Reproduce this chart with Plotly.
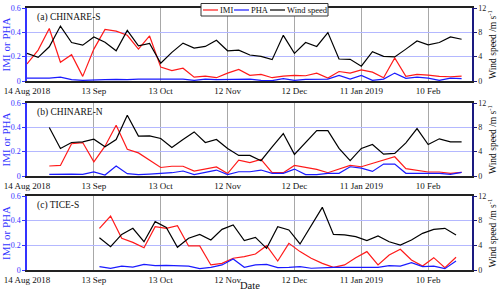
import pandas as pd
import plotly.graph_objects as go
from plotly.subplots import make_subplots

# ---------------- data ----------------
start_ab = "2018-08-14"
start_b = "2018-08-24"
start_c = "2018-09-15 12:00"

wind_a = [4.54, 3.89, 5.62, 9.03, 6.32, 5.89, 7.24, 6.38, 4.97, 8.32, 5.78, 6.16, 2.92, 4.70,
          6.22, 5.41, 5.68, 6.70, 4.97, 5.08, 4.27, 4.05, 3.51, 7.51, 4.54, 6.32, 5.68, 7.95,
          3.62, 3.57, 2.43, 4.81, 4.05, 3.95, 5.24, 6.59, 5.95, 6.32, 7.24, 6.86]
imi_a = [0.14, 0.254, 0.432, 0.154, 0.216, 0.038, 0.262, 0.424, 0.41, 0.376, 0.262, 0.37,
         0.114, 0.086, 0.105, 0.032, 0.04, 0.027, 0.065, 0.095, 0.046, 0.054, 0.027, 0.04,
         0.046, 0.043, 0.065, 0.024, 0.078, 0.065, 0.092, 0.073, 0.027, 0.189, 0.038, 0.054,
         0.049, 0.038, 0.035, 0.04]
pha_a = [0.024, 0.024, 0.024, 0.032, 0.011, 0.005, 0.005, 0.011, 0.014, 0.011, 0.016, 0.019,
         0.016, 0.016, 0.016, 0.005, 0.016, 0.011, 0.011, 0.011, 0.016, 0.005, 0.003, 0.019,
         0.005, 0.014, 0.014, 0.016, 0.046, 0.016, 0.046, 0.005, 0.016, 0.065, 0.022, 0.032,
         0.024, 0.005, 0.024, 0.019]

wind_b = [7.96, 4.53, 5.51, 5.62, 6.05, 4.8, 6.0, 9.98, 6.55, 6.6, 6.16, 4.69, 6.0, 7.25,
          5.51, 6.0, 4.53, 3.38, 3.38, 2.51, 4.8, 6.98, 3.55, 5.5, 7.47, 7.47, 4.53, 2.51,
          4.53, 5.18, 3.6, 3.71, 5.45, 7.8, 5.18, 6.11, 5.62, 5.62]
imi_b = [0.082, 0.087, 0.265, 0.275, 0.117, 0.245, 0.417, 0.22, 0.19, 0.13, 0.07, 0.08, 0.08,
         0.04, 0.06, 0.075, 0.02, 0.13, 0.11, 0.136, 0.027, 0.027, 0.087, 0.071, 0.055, 0.027,
         0.055, 0.087, 0.076, 0.104, 0.131, 0.158, 0.06, 0.049, 0.033, 0.033, 0.022, 0.03]
pha_b = [0.014, 0.016, 0.016, 0.014, 0.033, 0.008, 0.082, 0.019, 0.011, 0.016, 0.022, 0.027,
         0.041, 0.011, 0.03, 0.049, 0.011, 0.035, 0.035, 0.049, 0.022, 0.022, 0.057, 0.011,
         0.011, 0.022, 0.022, 0.076, 0.065, 0.038, 0.098, 0.098, 0.022, 0.022, 0.022, 0.022,
         0.014, 0.03]

wind_c = [5.24, 3.78, 5.78, 6.76, 4.59, 7.84, 6.9, 3.68, 5.14, 5.78, 4.86, 6.59, 7.3, 4.76,
          5.3, 3.51, 7.03, 6.49, 4.22, 7.19, 10.16, 5.78, 5.68, 5.4, 4.76, 5.51, 4.59, 4.05,
          4.86, 5.95, 6.59, 6.76, 5.68]
imi_c = [0.338, 0.438, 0.257, 0.224, 0.181, 0.351, 0.338, 0.36, 0.195, 0.195, 0.041, 0.054,
         0.095, 0.108, 0.13, 0.197, 0.073, 0.216, 0.149, 0.095, 0.054, 0.022, 0.041, 0.1,
         0.149, 0.041, 0.122, 0.168, 0.081, 0.032, 0.1, 0.019, 0.103]
pha_c = [0.027, 0.014, 0.032, 0.024, 0.046, 0.035, 0.038, 0.038, 0.032, 0.011, 0.022, 0.041,
         0.089, 0.022, 0.041, 0.046, 0.019, 0.022, 0.027, 0.014, 0.019, 0.022, 0.022, 0.022,
         0.016, 0.022, 0.035, 0.032, 0.059, 0.027, 0.032, 0.011, 0.073]

tick_dates = ["2018-08-14", "2018-09-13", "2018-10-13", "2018-11-12", "2018-12-12",
              "2019-01-11", "2019-02-10"]
tick_labels = ["14 Aug 2018", "13 Sep", "13 Oct", "12 Nov", "12 Dec", "11 Jan 2019", "10 Feb"]
panel_labels = ["(a) CHINARE-S", "(b) CHINARE-N", "(c) TICE-S"]
series_names = ["IMI", "PHA", "Wind speed"]

dates_a = pd.date_range(start_ab, periods=len(wind_a), freq="5D")
dates_b = pd.date_range(start_b, periods=len(wind_b), freq="5D")
dates_c = pd.date_range(start_c, periods=len(wind_c), freq="5D")

panels = [(dates_a, imi_a, pha_a, wind_a),
          (dates_b, imi_b, pha_b, wind_b),
          (dates_c, imi_c, pha_c, wind_c)]

# ---------------- figure ----------------
FONT = "Liberation Serif"
RED, BLUE, BLACK = "#ff1a1a", "#1a1aff", "#000000"
colors = [RED, BLUE, BLACK]

fig = make_subplots(rows=3, cols=1, specs=[[{"secondary_y": True}]] * 3)

for i, (d, imi, pha, wind) in enumerate(panels):
    r = i + 1
    for name, vals, col, sec in zip(series_names, [imi, pha, wind], colors, [False, False, True]):
        fig.add_trace(go.Scatter(x=d, y=vals, mode="lines", name=name,
                                 line=dict(color=col, width=1.2), showlegend=False),
                      row=r, col=1, secondary_y=sec)

W, H, ML, MR, MT, MB = 500, 293, 27, 28, 8, 23
pw, ph = W - ML - MR, H - MT - MB
def frac(py):
    return (H - MB - py) / ph
def fracx(px):
    return (px - ML) / pw

domains = [(frac(81), frac(8)), (frac(176), frac(103)), (frac(270), frac(196))]

for i in range(3):
    xa = "xaxis" if i == 0 else f"xaxis{i+1}"
    ya = "yaxis" if i == 0 else f"yaxis{2*i+1}"
    yb = f"yaxis{2*i+2}"
    fig.layout[xa].update(
        domain=[0, 1],
        type="date", range=["2018-08-14", "2019-03-01 16:00"],
        tickvals=tick_dates, ticktext=tick_labels, ticks="",
        showgrid=True, gridcolor="#a8a8a8", gridwidth=1,
        showline=True, linecolor="#222222", linewidth=1.5, mirror=True,
        tickfont=dict(family=FONT, size=9, color="#111111"), zeroline=False,
    )
    fig.layout[ya].update(
        domain=list(domains[i]), range=[0, 0.6],
        tickvals=[0, 0.2, 0.4, 0.6], ticktext=["0", "0.2", "0.4", "0.6"],
        ticks="outside", ticklen=3, tickcolor="#3333ff",
        showgrid=True, gridcolor="#b4b8ff", gridwidth=1, zeroline=False,
        showline=True, linecolor="#3333ff", linewidth=1.5,
        tickfont=dict(family=FONT, size=8, color="#3333ff"),
        title=dict(text="IMI or PHA", standoff=3,
                   font=dict(family=FONT, size=11, color="#3333ff")),
    )
    fig.layout[yb].update(
        domain=list(domains[i]), range=[0, 12],
        tickvals=[0, 4, 8, 12], ticks="outside", ticklen=3, tickcolor="#1a1a80",
        showgrid=False, zeroline=False,
        showline=True, linecolor="#1a1a80", linewidth=1.5,
        tickfont=dict(family=FONT, size=8, color="#222222"),
        title=dict(text="Wind speed /m s<sup>-1</sup>", standoff=3,
                   font=dict(family=FONT, size=9.5, color="#111111")),
    )
    fig.add_annotation(text=panel_labels[i], xref="x domain",
                       yref="y domain" if i == 0 else f"y{2*i+1} domain",
                       x=0.018, y=0.87, xanchor="left", yanchor="middle", showarrow=False,
                       font=dict(family=FONT, size=9.5, color="#111111"))

fig.add_annotation(text="Date", xref="paper", yref="paper",
                   x=0.5, y=frac(285), xanchor="center", yanchor="middle", showarrow=False,
                   font=dict(family=FONT, size=10.5, color="#111111"))

# ---- compact legend (box + line samples + labels), placed like the original ----
fig.add_shape(type="rect", xref="paper", yref="paper", layer="above",
              x0=fracx(201), x1=fracx(328), y0=frac(16), y1=frac(3.5),
              fillcolor="white", line=dict(color="#333333", width=1))
sample_x = [203, 234, 270]
label_x = [219, 250, 286]
for c, n, sx, lx in zip(colors, series_names, sample_x, label_x):
    fig.add_shape(type="line", xref="paper", yref="paper", layer="above",
                  x0=fracx(sx), x1=fracx(sx + 15), y0=frac(10), y1=frac(10),
                  line=dict(color=c, width=1.2))
    fig.add_annotation(text=n, xref="paper", yref="paper", x=fracx(lx), y=frac(10),
                       xanchor="left", yanchor="middle", showarrow=False, borderpad=0,
                       font=dict(family=FONT, size=8.5, color="#111111"))

fig.update_layout(
    width=W, height=H,
    margin=dict(l=ML, r=MR, t=MT, b=MB, autoexpand=False),
    paper_bgcolor="white", plot_bgcolor="white",
    font=dict(family=FONT, size=9, color="#111111"),
    showlegend=False,
)

fig.write_html("out.html", config={"displayModeBar": False},
               post_script="document.body.style.margin='0';document.body.style.overflow='hidden';")
